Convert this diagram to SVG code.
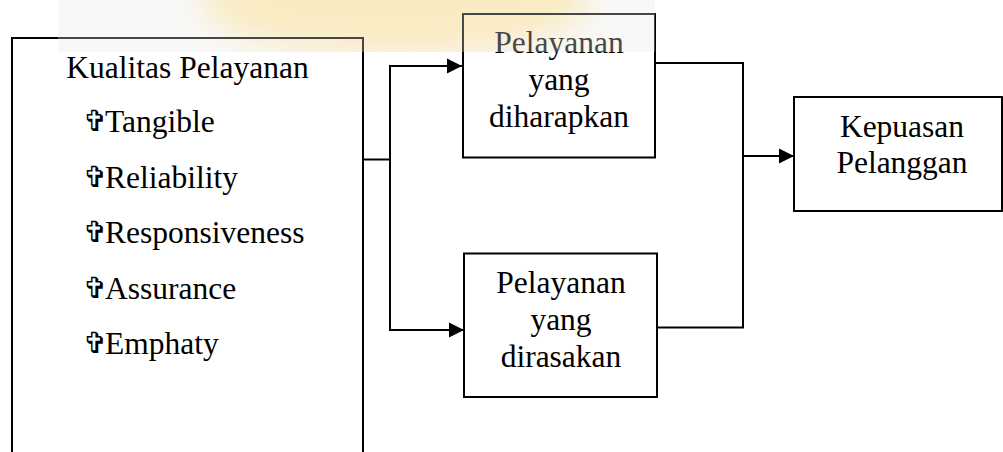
<svg xmlns="http://www.w3.org/2000/svg" width="1003" height="452" viewBox="0 0 1003 452">
  <style>
    .box { fill: none; stroke: #000; stroke-width: 2; }
    .conn { fill: none; stroke: #000; stroke-width: 2; }
    .t { font-family: "Liberation Serif", "Times New Roman", serif; font-size: 31.5px; fill: #000; }
    .c { text-anchor: middle; }
    .cross { font-family: "DejaVu Sans", sans-serif; font-size: 29px; fill: #000; }
  </style>
  <defs>
    <marker id="arrow" markerUnits="userSpaceOnUse" markerWidth="16" markerHeight="16" viewBox="0 0 16 16" refX="15" refY="8" orient="auto">
      <path d="M0,0.5 L15,8 L0,15.5 Z" fill="#000"/>
    </marker>
    <filter id="blur" x="-50%" y="-50%" width="200%" height="200%">
      <feGaussianBlur stdDeviation="16"/>
    </filter>
    <clipPath id="band">
      <rect x="58" y="0" width="597" height="52"/>
    </clipPath>
  </defs>
  <rect width="1003" height="452" fill="#fff"/>
  <g id="watermark" clip-path="url(#band)">
    <rect x="58" y="0" width="597" height="52" fill="#f6f6f6"/>
    <ellipse cx="395" cy="0" rx="195" ry="55" fill="#f9d779" opacity="0.6" filter="url(#blur)"/>
  </g>

  <g id="kualitas">
    <path class="box" d="M12,452 V38 H363 V452"/>
    <text class="t c" x="187.5" y="78">Kualitas Pelayanan</text>
    <text class="cross" x="83" y="131">✞</text><text class="t" x="105" y="132">Tangible</text>
    <text class="cross" x="83" y="186.5">✞</text><text class="t" x="105" y="187.5">Reliability</text>
    <text class="cross" x="83" y="242">✞</text><text class="t" x="105" y="243">Responsiveness</text>
    <text class="cross" x="83" y="297.7">✞</text><text class="t" x="105" y="298.7">Assurance</text>
    <text class="cross" x="83" y="353.3">✞</text><text class="t" x="105" y="354.3">Emphaty</text>
  </g>

  <g id="diharapkan">
    <rect class="box" x="463" y="14" width="192" height="143.5"/>
    <text class="t c" x="559" y="53">Pelayanan</text>
    <text class="t c" x="559" y="90">yang</text>
    <text class="t c" x="559" y="127">diharapkan</text>
  </g>

  <g id="dirasakan">
    <rect class="box" x="464" y="253.5" width="193" height="143.5"/>
    <text class="t c" x="561" y="293">Pelayanan</text>
    <text class="t c" x="561" y="330">yang</text>
    <text class="t c" x="561" y="367">dirasakan</text>
  </g>

  <g id="kepuasan">
    <rect class="box" x="794" y="97" width="208" height="114"/>
    <text class="t c" x="902" y="137">Kepuasan</text>
    <text class="t c" x="902" y="173">Pelanggan</text>
  </g>

  <g id="connectors">
    <path class="conn" d="M363,159.5 H390"/>
    <path class="conn" d="M390,66 V330"/>
    <path class="conn" d="M389,66 H462" marker-end="url(#arrow)"/>
    <path class="conn" d="M389,330 H464" marker-end="url(#arrow)"/>
    <path class="conn" d="M656,63 H743 V327.5 H657"/>
    <path class="conn" d="M743,156 H794" marker-end="url(#arrow)"/>
  </g>

  <rect id="band-overlay" x="58" y="0" width="597" height="52" fill="#fff" opacity="0.28"/>
</svg>
